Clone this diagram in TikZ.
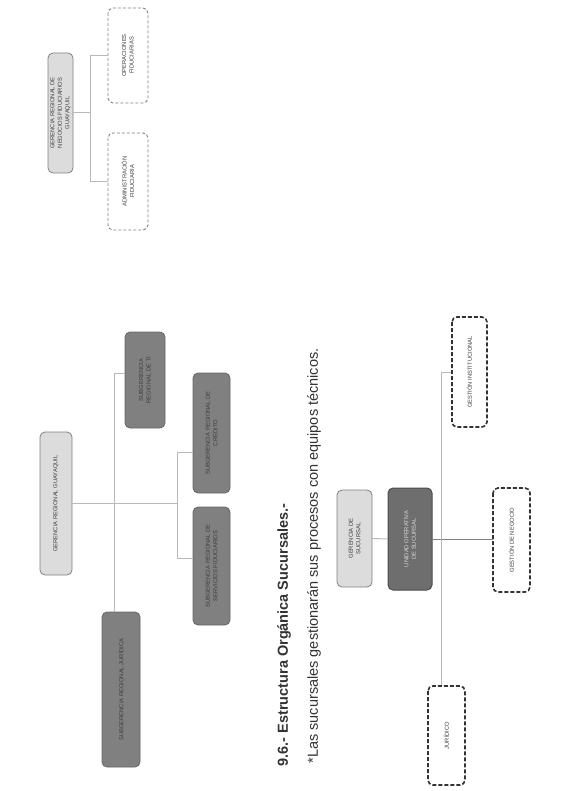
\documentclass[tikz,border=0pt]{standalone}
\usepackage{fontspec}
\setmainfont{Liberation Sans}
\usetikzlibrary{positioning, calc}
\definecolor{boxlight}{RGB}{220, 220, 220}
\definecolor{boxmid}{RGB}{128, 128, 128}
\definecolor{boxdark}{RGB}{110, 110, 110}
\definecolor{linegray}{RGB}{185, 185, 185}
\definecolor{textgray}{RGB}{60, 60, 60}

\tikzset{
  orgbox/.style={rotate=90, rounded corners=5pt, align=center, inner sep=1pt,
    font=\fontsize{5.8}{7.5}\selectfont, text=textgray},
  lightbox/.style={orgbox, draw=gray, fill=boxlight, line width=0.8pt},
  darkbox/.style={orgbox, draw=boxmid!80!black, fill=boxmid, line width=0.8pt},
  thinbox/.style={orgbox, draw=gray, densely dashed, line width=0.9pt},
  boldbox/.style={orgbox, draw=black!80, dash pattern=on 4pt off 2pt, line width=1.6pt},
  conn/.style={draw=linegray, line width=1pt}
}

\begin{document}
\begin{tikzpicture}[x=1pt, y=-1pt]
  \useasboundingbox[fill=white] (0,0) rectangle (564,791);

  % regional fiduciary office
  \node[lightbox, minimum width=120pt, minimum height=25pt] (gerNeg) at (60.5,113)
    {GERENCIA REGIONAL DE\\NEGOCIOS FIDUCIARIOS\\GUAYAQUIL};
  \node[thinbox, minimum width=95pt, minimum height=40pt] (opFid) at (128,55.5)
    {OPERACIONES\\FIDUCIARIAS};
  \node[thinbox, minimum width=97pt, minimum height=40pt] (admFid) at (128,181.5)
    {ADMINISTRACIÓN\\FIDUCIARIA};
  \draw[conn] (gerNeg.south) -- ++(17,0) coordinate (t1);
  \draw[conn] (opFid.north) -- (opFid.north -| t1) -- (admFid.north -| t1) -- (admFid.north);

  % regional office
  \node[lightbox, minimum width=143pt, minimum height=32pt] (gerReg) at (56,503.5)
    {GERENCIA REGIONAL GUAYAQUIL};
  \node[darkbox, minimum width=96pt, minimum height=40pt] (subTI) at (145,380)
    {SUBGERENCIA\\REGIONAL DE TI};
  \node[darkbox, minimum width=120pt, minimum height=37pt] (subCred) at (211.5,433)
    {SUBGERENCIA REGIONAL DE\\CRÉDITO};
  \node[darkbox, minimum width=118pt, minimum height=37pt] (subServ) at (211.5,566)
    {SUBGERENCIA REGIONAL DE\\SERVICIOS FIDUCIARIOS};
  \node[darkbox, minimum width=155pt, minimum height=38pt] (subJur) at (121,689.5)
    {SUBGERENCIA REGIONAL JURÍDICA};
  \draw[conn] (gerReg.south) -- (177,503.5) coordinate (t2);
  \draw[conn] ([yshift=-19pt]subCred.north) -- ([yshift=-19pt]subCred.north -| t2)
    -- ([yshift=8pt]subServ.north -| t2) -- ([yshift=8pt]subServ.north);
  \draw[conn] ([yshift=7pt]subTI.north) -- ++(-10,0) coordinate (t3) -- (t3 |- subJur.east);

  \node[rotate=90, anchor=west, font=\fontsize{14.5}{17}\selectfont\bfseries, text=black!80] (title) at (284,770)
    {9.6.- Estructura Orgánica Sucursales.-};
  \node[rotate=90, anchor=west, font=\fontsize{14.5}{17}\selectfont, text=black!80] (note) at (314,767)
    {*Las sucursales gestionarán sus procesos con equipos técnicos.};

  % branches
  \node[lightbox, minimum width=97pt, minimum height=35pt] (gerSuc) at (354.5,538.5)
    {GERENCIA DE\\SUCURSAL};
  \node[orgbox, draw=black!70, fill=boxdark, line width=1pt, text=black!15, minimum width=102pt, minimum height=44pt] (uniOp) at (410,539)
    {UNIDAD OPERATIVA\\DE SUCURSAL};
  \node[boldbox, minimum width=110pt, minimum height=35pt] (gesInst) at (469.5,372)
    {GESTIÓN INSTITUCIONAL};
  \node[boldbox, minimum width=104pt, minimum height=37pt] (gesNeg) at (511.5,540)
    {GESTIÓN DE NEGOCIO};
  \node[boldbox, minimum width=99pt, minimum height=37pt] (jur) at (446.5,735.5)
    {JURÍDICO};
  \draw[conn] (gerSuc.south) -- (uniOp.north);
  \draw[conn, draw=gray] (uniOp.south) -- (uniOp.south -| gesNeg.north) -- (gesNeg.north);
  \draw[conn, line width=0.7pt] (gesInst.north) -- ++(-10,0) coordinate (t4) -- (t4 |- jur.east);
\end{tikzpicture}
\end{document}
